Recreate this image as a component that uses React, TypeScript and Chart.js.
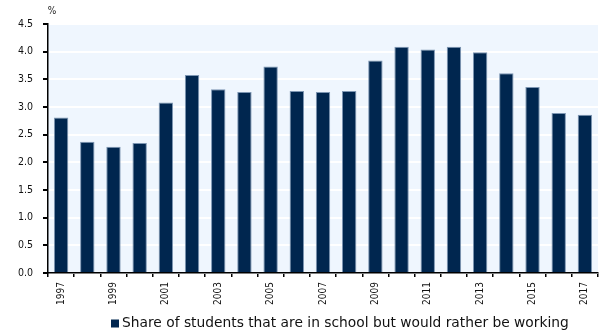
import React, { useEffect, useRef } from "react";
import { Chart, registerables } from "chart.js";

Chart.register(...registerables);

const years: string[] = [
  "1997", "1998", "1999", "2000", "2001", "2002", "2003", "2004", "2005", "2006", "2007",
  "2008", "2009", "2010", "2011", "2012", "2013", "2014", "2015", "2016", "2017",
];
const shareValues: number[] = [
  2.81, 2.37, 2.28, 2.35, 3.08, 3.58, 3.32, 3.27, 3.73, 3.29, 3.27,
  3.29, 3.84, 4.09, 4.04, 4.09, 3.99, 3.61, 3.36, 2.89, 2.86,
];
const seriesLabel = "Share of students that are in school but would rather be working";
const unitLabel = "%";

const FONT = "'DejaVu Sans', Verdana, sans-serif";
const TICK_FONT = "'DejaVu Sans Condensed', 'DejaVu Sans', sans-serif";
const BAR_COLOR = "#00264F";

const decorPlugin = {
  id: "decor",
  beforeDraw(chart: any) {
    const { ctx, chartArea } = chart;
    ctx.save();
    ctx.fillStyle = "#EFF6FE";
    ctx.fillRect(chartArea.left, chartArea.top, chartArea.right - chartArea.left, chartArea.bottom - chartArea.top);
    ctx.restore();
  },
  afterDraw(chart: any) {
    const { ctx, chartArea } = chart;
    ctx.save();
    ctx.fillStyle = "#222";
    ctx.font = `10px ${TICK_FONT}`;
    ctx.textAlign = "center";
    ctx.textBaseline = "middle";
    ctx.fillText(unitLabel, chartArea.left + 4, 11);
    // legend
    const ds = chart.data.datasets[0];
    const y = chart.height - 7.5;
    ctx.fillStyle = ds.backgroundColor;
    ctx.fillRect(111, y - 4, 8, 8);
    ctx.fillStyle = "#111";
    ctx.font = `13.8px ${FONT}`;
    ctx.textAlign = "left";
    ctx.fillText(ds.label, 122, y);
    ctx.restore();
  },
};

export default function App() {
  const ref = useRef<HTMLCanvasElement | null>(null);
  useEffect(() => {
    if (!ref.current) return;
    const chart = new Chart(ref.current, {
      type: "bar",
      data: {
        labels: years,
        datasets: [
          {
            label: seriesLabel,
            data: shareValues,
            backgroundColor: BAR_COLOR,
            borderColor: "#7D96B3",
            borderWidth: 1,
            barPercentage: 0.55,
            categoryPercentage: 1,
          },
        ],
      },
      options: {
        animation: false,
        responsive: false,
        maintainAspectRatio: false,
        layout: { padding: { top: 24, left: 0, right: 4, bottom: 14 } },
        plugins: {
          legend: { display: false },
          tooltip: { enabled: false },
        },
        scales: {
          x: {
            offset: true,
            afterFit: (scale: any) => {
              scale.height = 44;
            },
            grid: {
              offset: true,
              drawOnChartArea: false,
              color: "#000",
              tickLength: 4,
              lineWidth: 1.5,
            },
            border: { display: true, color: "#000", width: 1.5 },
            ticks: {
              autoSkip: false,
              maxRotation: 90,
              minRotation: 90,
              color: "#111",
              padding: 5,
              font: { family: TICK_FONT, size: 10 },
              callback: (_v: any, i: number) => (i % 2 === 0 ? years[i] : ""),
            },
          },
          y: {
            min: 0,
            max: 4.5,
            afterFit: (scale: any) => {
              scale.width = 48;
            },
            grid: {
              color: "#FFFFFF",
              lineWidth: 2,
              tickColor: "#000",
              tickLength: 5,
            },
            border: { display: true, color: "#000", width: 1.5 },
            ticks: {
              stepSize: 0.5,
              color: "#111",
              padding: 10,
              font: { family: TICK_FONT, size: 10.5 },
              callback: (v: any) => Number(v).toFixed(1),
            },
          },
        },
      },
      plugins: [decorPlugin],
    });
    return () => chart.destroy();
  }, []);
  return (
    <div style={{ position: "fixed", left: 0, top: 0, width: 602, height: 331, background: "#fff" }}>
      <canvas ref={ref} width={602} height={331} style={{ width: 602, height: 331, display: "block" }} />
    </div>
  );
}
